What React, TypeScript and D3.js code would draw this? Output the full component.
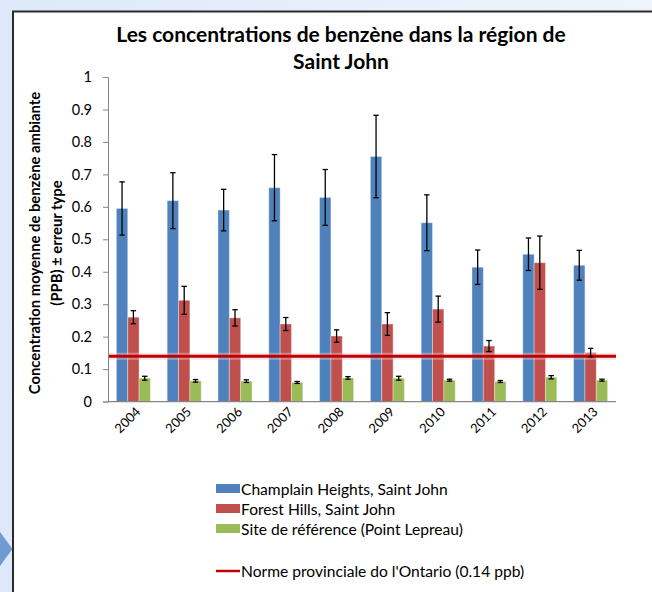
import React, { useEffect, useRef } from "react";
import * as d3 from "d3";

const years = ["2004", "2005", "2006", "2007", "2008", "2009", "2010", "2011", "2012", "2013"];
const seriesNames = [
  "Champlain Heights, Saint John",
  "Forest Hills, Saint John",
  "Site de référence (Point Lepreau)",
];
const seriesColors = ["#4F81BD", "#C0504D", "#9BBB59"];

const champlain = [0.595, 0.619, 0.59, 0.659, 0.629, 0.755, 0.551, 0.414, 0.454, 0.42];
const champlainErr = [0.082, 0.086, 0.064, 0.102, 0.086, 0.127, 0.086, 0.053, 0.05, 0.046];
const forestHills = [0.26, 0.312, 0.258, 0.239, 0.202, 0.239, 0.285, 0.171, 0.428, 0.151];
const forestHillsErr = [0.02, 0.043, 0.025, 0.02, 0.019, 0.035, 0.04, 0.017, 0.082, 0.013];
const lepreau = [0.072, 0.064, 0.063, 0.059, 0.073, 0.072, 0.066, 0.062, 0.075, 0.066];
const lepreauErr = [0.006, 0.004, 0.004, 0.003, 0.004, 0.006, 0.003, 0.003, 0.005, 0.003];

const yTicks = [0, 0.1, 0.2, 0.3, 0.4, 0.5, 0.6, 0.7, 0.8, 0.9, 1];
const normValue = 0.14;
const normLabel = "Norme provinciale do l'Ontario (0.14 ppb)";

const FONT = "Lato, 'Noto Sans', sans-serif";

export default function App() {
  const ref = useRef<SVGSVGElement>(null);

  useEffect(() => {
    const svg = d3.select(ref.current);
    svg.selectAll("*").remove();

    const width = 652,
      height = 592;
    const left = 108,
      right = 616,
      top = 77,
      bottom = 401.6;

    // background outside the chart frame
    const defs = svg.append("defs");
    const grad = defs
      .append("linearGradient")
      .attr("id", "bg")
      .attr("x1", "0")
      .attr("y1", "0")
      .attr("x2", "1")
      .attr("y2", "0");
    grad.append("stop").attr("offset", "0").attr("stop-color", "#dde9fa");
    grad.append("stop").attr("offset", "1").attr("stop-color", "#eef4fc");
    svg.append("rect").attr("width", width).attr("height", height).attr("fill", "url(#bg)");
    svg
      .append("path")
      .attr("d", "M0,532 L12.5,549 L0,566 Z")
      .attr("fill", "#6f9bd2");
    svg
      .append("rect")
      .attr("x", 13)
      .attr("y", 11.5)
      .attr("width", width)
      .attr("height", height)
      .attr("fill", "#fff")
      .attr("stroke", "#2b2b2b")
      .attr("stroke-width", 2);

    // title
    const title = svg
      .append("text")
      .attr("text-anchor", "middle")
      .attr("font-family", FONT)
      .attr("font-weight", "bold")
      .attr("font-size", 21)
      .attr("fill", "#000");
    title.append("tspan").attr("x", 341).attr("y", 42).text("Les concentrations de benzène dans la région de");
    title.append("tspan").attr("x", 341).attr("y", 69).text("Saint John");

    const x0 = d3.scaleBand<string>().domain(years).range([left, right]).paddingInner(0.33).paddingOuter(0.165);
    const x1 = d3.scaleBand<number>().domain([0, 1, 2]).range([0, x0.bandwidth()]);
    const y = d3.scaleLinear().domain([0, 1]).range([bottom, top]);

    // y axis
    const yAxis = svg
      .append("g")
      .attr("transform", `translate(${left},0)`)
      .call(
        d3
          .axisLeft(y)
          .tickValues(yTicks)
          .tickSize(5)
          .tickPadding(11)
          .tickFormat((d) => String(+d))
      );
    yAxis.select(".domain").attr("stroke", "#868686");
    yAxis.selectAll(".tick line").attr("stroke", "#868686");
    yAxis
      .selectAll(".tick text")
      .attr("font-family", FONT)
      .attr("font-size", 14.5)
      .attr("fill", "#000");

    const ylab = svg
      .append("text")
      .attr("transform", "rotate(-90)")
      .attr("text-anchor", "middle")
      .attr("font-family", FONT)
      .attr("font-weight", "bold")
      .attr("font-size", 14.8)
      .attr("fill", "#000");
    ylab.append("tspan").attr("x", -243).attr("y", 40).text("Concentration moyenne de benzène ambiante");
    ylab.append("tspan").attr("x", -243).attr("y", 62).text("(PPB) ± erreur type");

    const values = [champlain, forestHills, lepreau];
    const errors = [champlainErr, forestHillsErr, lepreauErr];

    // bars
    values.forEach((vals, s) => {
      const g = svg.append("g");
      g.selectAll("rect")
        .data(vals)
        .enter()
        .append("rect")
        .attr("x", (d, i) => (x0(years[i]) as number) + (x1(s) as number))
        .attr("y", (d) => y(d))
        .attr("width", x1.bandwidth())
        .attr("height", (d) => bottom - y(d))
        .attr("fill", seriesColors[s])
        .attr("stroke", "rgba(255,255,255,0.35)")
        .attr("stroke-width", 1);
    });

    // x axis
    svg
      .append("line")
      .attr("x1", left)
      .attr("x2", right)
      .attr("y1", bottom)
      .attr("y2", bottom)
      .attr("stroke", "#868686")
      .attr("stroke-width", 1.2);

    // norm line
    svg
      .append("line")
      .attr("x1", left + 1)
      .attr("x2", right)
      .attr("y1", y(normValue))
      .attr("y2", y(normValue))
      .attr("stroke", "#f0c8c8")
      .attr("stroke-opacity", 0.45)
      .attr("stroke-width", 7);
    svg
      .append("line")
      .attr("x1", left + 1)
      .attr("x2", right)
      .attr("y1", y(normValue))
      .attr("y2", y(normValue))
      .attr("stroke", "#C00000")
      .attr("stroke-width", 3);

    // error bars
    values.forEach((vals, s) => {
      const g = svg.append("g").attr("stroke", "#000").attr("stroke-width", 1.3);
      vals.forEach((v, i) => {
        const cx = (x0(years[i]) as number) + (x1(s) as number) + x1.bandwidth() / 2;
        const e = errors[s][i];
        g.append("line").attr("x1", cx).attr("x2", cx).attr("y1", y(v + e)).attr("y2", y(v - e));
        g.append("line").attr("x1", cx - 2.7).attr("x2", cx + 2.7).attr("y1", y(v + e)).attr("y2", y(v + e));
        g.append("line").attr("x1", cx - 2.7).attr("x2", cx + 2.7).attr("y1", y(v - e)).attr("y2", y(v - e));
      });
    });

    // x labels
    svg
      .append("g")
      .selectAll("text")
      .data(years)
      .enter()
      .append("text")
      .attr("transform", (d) => {
        const cx = (x0(d) as number) + x0.bandwidth() / 2 + 8;
        return `translate(${cx},${bottom + 11}) rotate(-45)`;
      })
      .attr("text-anchor", "end")
      .attr("font-family", FONT)
      .attr("font-size", 13)
      .attr("fill", "#000")
      .text((d) => d);

    // legend
    const lg = svg.append("g").attr("font-family", FONT).attr("font-size", 15.6);
    seriesNames.forEach((name, s) => {
      const yy = 489 + s * 20;
      lg.append("rect")
        .attr("x", 216)
        .attr("y", yy - 5)
        .attr("width", 24)
        .attr("height", 9)
        .attr("fill", seriesColors[s]);
      lg.append("text").attr("x", 241).attr("y", yy + 5.5).text(name);
    });
    lg.append("line")
      .attr("x1", 216)
      .attr("x2", 240)
      .attr("y1", 571)
      .attr("y2", 571)
      .attr("stroke", "#C00000")
      .attr("stroke-width", 2.5);
    lg.append("text").attr("x", 241).attr("y", 577).text(normLabel);
  }, []);

  return (
    <div style={{ position: "absolute", left: 0, top: 0 }}>
      <svg ref={ref} width={652} height={592} style={{ display: "block" }} />
    </div>
  );
}
